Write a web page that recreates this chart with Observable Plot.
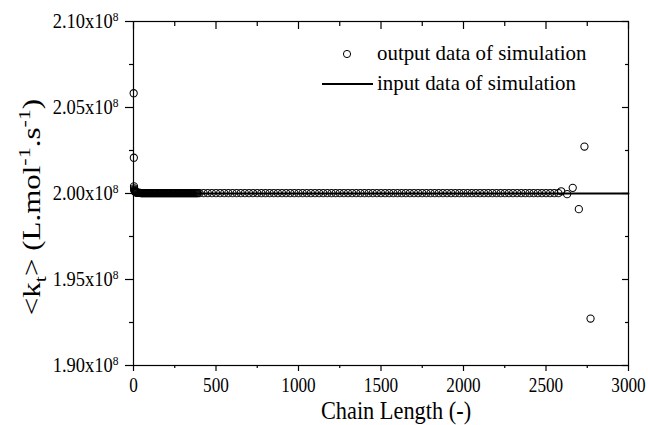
<!DOCTYPE html>
<html><head><meta charset="utf-8">
<script src="https://cdn.jsdelivr.net/npm/d3@7"></script>
<script src="https://cdn.jsdelivr.net/npm/@observablehq/plot@0.6"></script>
<style>
html,body{margin:0;padding:0;background:#fff;}
#chart{width:648px;height:425px;}
</style></head><body><div id="chart"></div>
<script>
// ---- data (kt in units of 1e8 L.mol-1.s-1) ----
const chainEarly = [1,2,3,4,5,6,7,8,9,10,12,14,16,18,20,25,30,35,40];
const ktEarly = [2.0583,2.0208,2.0041,2.0030,2.0023,2.0018,2.0015,2.0013,2.0011,2.0010,2.0009,2.0008,2.0007,2.0006,2.0005,2.0005,2.0004,2.0004,2.0003];
const chainBand = [
45,50,55,60,65,70,75,80,85,90,
95,100,105,110,115,120,125,130,135,140,
145,150,155,160,165,170,175,180,185,190,
195,200,205,210,215,220,225,230,235,240,
245,250,255,260,265,270,275,280,285,290,
295,300,305,310,315,320,325,330,335,340,
345,350,355,360,365,370,375,380,385,390,
400,425,450,475,500,525,550,575,600,625,
650,675,700,725,750,775,800,825,850,875,
900,925,950,975,1000,1025,1050,1075,1100,1125,
1150,1175,1200,1225,1250,1275,1300,1325,1350,1375,
1400,1425,1450,1475,1500,1525,1550,1575,1600,1625,
1650,1675,1700,1725,1750,1775,1800,1825,1850,1875,
1900,1925,1950,1975,2000,2025,2050,2075,2100,2125,
2150,2175,2200,2225,2250,2275,2300,2325,2350,2375,
2400,2425,2450,2475,2500,2525,2550,2575];
const ktBand = [
2.0002,2.0002,2.0002,2.0002,2.0002,2.0002,2.0002,2.0002,2.0002,2.0002,
2.0002,2.0002,2.0002,2.0002,2.0002,2.0002,2.0002,2.0002,2.0002,2.0002,
2.0002,2.0002,2.0002,2.0002,2.0002,2.0002,2.0002,2.0002,2.0002,2.0002,
2.0002,2.0002,2.0002,2.0002,2.0002,2.0002,2.0002,2.0002,2.0002,2.0002,
2.0002,2.0002,2.0002,2.0002,2.0002,2.0002,2.0002,2.0002,2.0002,2.0002,
2.0002,2.0002,2.0002,2.0002,2.0002,2.0002,2.0002,2.0002,2.0002,2.0002,
2.0002,2.0002,2.0002,2.0002,2.0002,2.0002,2.0002,2.0002,2.0002,2.0002,
2.0002,2.0002,2.0002,2.0002,2.0002,2.0002,2.0002,2.0002,2.0002,2.0002,
2.0002,2.0002,2.0002,2.0002,2.0002,2.0002,2.0002,2.0002,2.0002,2.0002,
2.0002,2.0002,2.0002,2.0002,2.0002,2.0002,2.0002,2.0002,2.0002,2.0002,
2.0002,2.0002,2.0002,2.0002,2.0002,2.0002,2.0002,2.0002,2.0002,2.0002,
2.0002,2.0002,2.0002,2.0002,2.0002,2.0002,2.0002,2.0002,2.0002,2.0002,
2.0002,2.0002,2.0002,2.0002,2.0002,2.0002,2.0002,2.0002,2.0002,2.0002,
2.0002,2.0002,2.0002,2.0002,2.0002,2.0002,2.0002,2.0002,2.0002,2.0002,
2.0002,2.0002,2.0002,2.0002,2.0002,2.0002,2.0002,2.0002,2.0002,2.0002,
2.0002,2.0002,2.0002,2.0002,2.0002,2.0002,2.0002,2.0002];
const chainTail = [2592,2628,2662,2699,2733,2770];
const ktTail = [2.0013,1.9996,2.0033,1.9909,2.0273,1.9273];
const inputChain = [0,3000];
const inputKt = [2.0,2.0];
const xMajor = [0,500,1000,1500,2000,2500,3000];
const xMinor = [250,750,1250,1750,2250,2750];
const yMajor = [1.90,1.95,2.00,2.05,2.10];
const yMinor = [1.925,1.975,2.025,2.075];
const yExponent = "8";
const legendOutput = "output data of simulation";
const legendInput = "input data of simulation";
const xTitle = "Chain Length (-)";

// ---- build tables ----
const output = [];
[[chainEarly, ktEarly],[chainBand, ktBand],[chainTail, ktTail]].forEach(([cs, ks]) =>
  cs.forEach((c, i) => { if (ks[i] !== undefined) output.push({chain: c, kt: ks[i]}); }));
const input = inputChain.map((c, i) => ({chain: c, kt: inputKt[i]}));

const font = "'Liberation Serif','Times New Roman',serif";
const blank = () => "";
const tk = {label: null, tickFormat: blank, strokeWidth: 1.2};

const svg = Plot.plot({
  width: 648, height: 425,
  marginLeft: 133, marginRight: 20, marginTop: 21, marginBottom: 60,
  style: {fontFamily: font, fontSize: "20px", color: "#000", background: "#fff", overflow: "visible"},
  x: {domain: [0, 3000]},
  y: {domain: [1.9, 2.1]},
  marks: [
    Plot.line(input, {x: "chain", y: "kt", stroke: "#000", strokeWidth: 1.8}),
    Plot.dot(output, {x: "chain", y: "kt", r: 3.6, stroke: "#000", strokeWidth: 1.05, fill: "none"}),
    Plot.axisX(xMajor, {anchor: "bottom", tickSize: 6, ...tk}),
    Plot.axisX(xMinor, {anchor: "bottom", tickSize: 3, ...tk}),
    Plot.axisX(xMajor, {anchor: "top", tickSize: -7, ...tk}),
    Plot.axisX(xMinor, {anchor: "top", tickSize: -4, ...tk}),
    Plot.axisX(xMajor, {anchor: "bottom", tickSize: 0, tickPadding: 12, label: null, fontSize: 20, tickFormat: d => String(d)}),
    Plot.axisY(yMajor, {anchor: "left", tickSize: 8, ...tk}),
    Plot.axisY(yMinor, {anchor: "left", tickSize: 4, ...tk}),
    Plot.axisY(yMajor, {anchor: "right", tickSize: -7, ...tk}),
    Plot.axisY(yMinor, {anchor: "right", tickSize: -4, ...tk}),
    Plot.axisY(yMajor, {anchor: "left", tickSize: 0, tickPadding: 15, label: null, fontSize: 21, tickFormat: d => d.toFixed(2) + "x10"}),
    Plot.frame({stroke: "#000", strokeWidth: 1.2})
  ]
});

const NS = "http://www.w3.org/2000/svg";
function squeeze(t, k) {
  const tr = t.getAttribute("transform") || "";
  t.setAttribute("transform", `${tr} scale(${k},1)`);
}
// superscript exponent on y tick labels
svg.querySelectorAll('[aria-label="y-axis tick label"] text').forEach(t => {
  if (t.textContent) {
    const ts = document.createElementNS(NS, "tspan");
    ts.setAttribute("dy", "-0.55em");
    ts.setAttribute("font-size", "13");
    ts.textContent = yExponent;
    t.appendChild(ts);
    squeeze(t, 0.88);
  }
});
svg.querySelectorAll('[aria-label="x-axis tick label"] text').forEach(t => {
  if (t.textContent) squeeze(t, 0.86);
});

const sel = d3.select(svg);
// legend
const lg = sel.append("g").attr("font-family", font).attr("fill", "#000").attr("text-anchor", "start");
lg.append("circle").attr("cx", 347).attr("cy", 54).attr("r", 3.6).attr("fill", "none").attr("stroke", "#000").attr("stroke-width", 1);
lg.append("text").attr("transform", "translate(377,60) scale(0.95,1)").attr("font-size", 22).text(legendOutput);
lg.append("line").attr("x1", 322).attr("x2", 373).attr("y1", 84).attr("y2", 84).attr("stroke", "#000").attr("stroke-width", 1.8);
lg.append("text").attr("transform", "translate(377,90) scale(0.95,1)").attr("font-size", 22).text(legendInput);

// x title
sel.append("text").attr("font-family", font).attr("font-size", 26).attr("text-anchor", "middle").attr("fill", "#000")
  .attr("transform", "translate(396,419) scale(0.86,1)").text(xTitle);

// y title  <k_t> (L.mol^-1.s^-1)
const yt = sel.append("text").attr("font-family", font).attr("font-size", 31).attr("text-anchor", "middle").attr("fill", "#000")
  .attr("transform", "translate(40,207) rotate(-90) scale(1,0.8)");
yt.append("tspan").text("<k");
yt.append("tspan").attr("font-size", 22).attr("dy", 8).text("t");
yt.append("tspan").attr("dy", -8).text("> (L.mol");
yt.append("tspan").attr("font-size", 22).attr("dy", -13).text("-1");
yt.append("tspan").attr("dy", 13).text(".s");
yt.append("tspan").attr("font-size", 22).attr("dy", -13).text("-1");
yt.append("tspan").attr("dy", 13).text(")");

document.getElementById("chart").append(svg);
</script></body></html>
